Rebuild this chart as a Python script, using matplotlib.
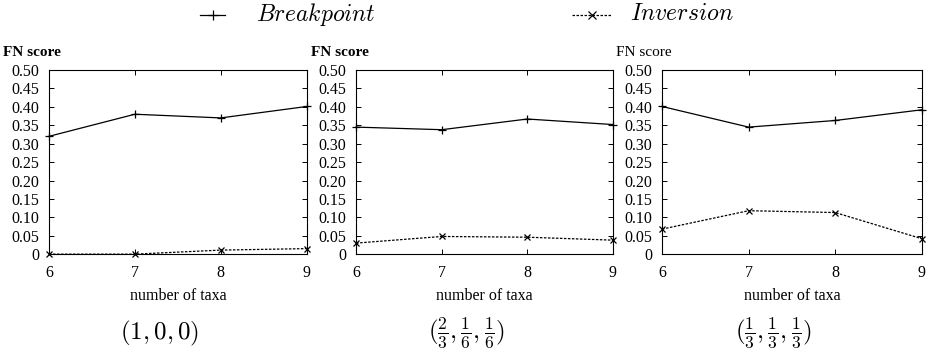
import numpy as np
import matplotlib
matplotlib.use("Agg")
import matplotlib.pyplot as plt
from matplotlib.ticker import FuncFormatter
from matplotlib.lines import Line2D

plt.rcParams['font.family'] = ['Liberation Serif', 'DejaVu Serif']
plt.rcParams['mathtext.fontset'] = 'cm'

taxa = [6, 7, 8, 9]
breakpoint_vals = [
    [0.320, 0.380, 0.370, 0.401],
    [0.345, 0.338, 0.367, 0.352],
    [0.401, 0.345, 0.363, 0.392],
]
inversion_vals = [
    [0.000, 0.000, 0.011, 0.015],
    [0.030, 0.048, 0.046, 0.038],
    [0.068, 0.118, 0.113, 0.042],
]
yticks = np.arange(0, 0.501, 0.05)
panel_labels = [r'$(1, 0, 0)$',
                r'$(\frac{2}{3}, \frac{1}{6}, \frac{1}{6})$',
                r'$(\frac{1}{3}, \frac{1}{3}, \frac{1}{3})$']
title_weights = ['bold', 'bold', 'normal']

W, H = 930, 352
fig = plt.figure(figsize=(W / 100, H / 100), dpi=100)
lefts = [0.0527, 0.383, 0.712]
widths = [0.277, 0.276, 0.279]
bottom, height = 0.278, 0.523

fmt = FuncFormatter(lambda v, p: '0' if abs(v) < 1e-9 else f'{v:.2f}')

for i in range(3):
    ax = fig.add_axes([lefts[i], bottom, widths[i], height])
    ax.plot(taxa, breakpoint_vals[i], color='black', lw=0.9, marker='+',
            ms=5.5, mew=0.9, clip_on=False)
    ax.plot(taxa, inversion_vals[i], color='black', lw=0.9, ls=(0, (2, 1.2)),
            marker='x', ms=4.5, mew=0.9, clip_on=False)
    ax.set_xlim(6, 9)
    ax.set_ylim(0, 0.5)
    ax.set_xticks(taxa)
    ax.set_yticks(yticks)
    ax.yaxis.set_major_formatter(fmt)
    ax.tick_params(direction='in', top=True, right=True, length=3.5,
                   width=0.7, labelsize=11.5, pad=7)
    ax.tick_params(axis='x', pad=8)
    for s in ax.spines.values():
        s.set_linewidth(0.8)
    ax.text(0.5, -0.228, 'number of taxa', transform=ax.transAxes,
            fontsize=11.5, ha='center', va='center')
    ax.text(-0.178, 1.098, 'FN score', transform=ax.transAxes, fontsize=11,
            fontweight=title_weights[i], ha='left', va='center')
    ax.text(0.43, -0.43, panel_labels[i], transform=ax.transAxes,
            fontsize=18, ha='center', va='center')

# key at the top, laid out like the gnuplot key
ky = 1 - 15 / H
fig.add_artist(Line2D([200 / W, 225 / W], [ky, ky], color='black', lw=0.9))
fig.add_artist(Line2D([212.5 / W], [ky], color='black', marker='+', ms=7, mew=0.9))
fig.text(256 / W, ky, r'$\mathit{Breakpoint}$', fontsize=17, ha='left', va='center')
fig.add_artist(Line2D([572 / W, 612 / W], [ky, ky], color='black', lw=0.9,
                      ls=(0, (2, 1.2))))
fig.add_artist(Line2D([592 / W], [ky], color='black', marker='x', ms=5.5, mew=0.9))
fig.text(630 / W, ky, r'$\mathit{Inversion}$', fontsize=17, ha='left', va='center')

fig.savefig('out.png', dpi=100)
